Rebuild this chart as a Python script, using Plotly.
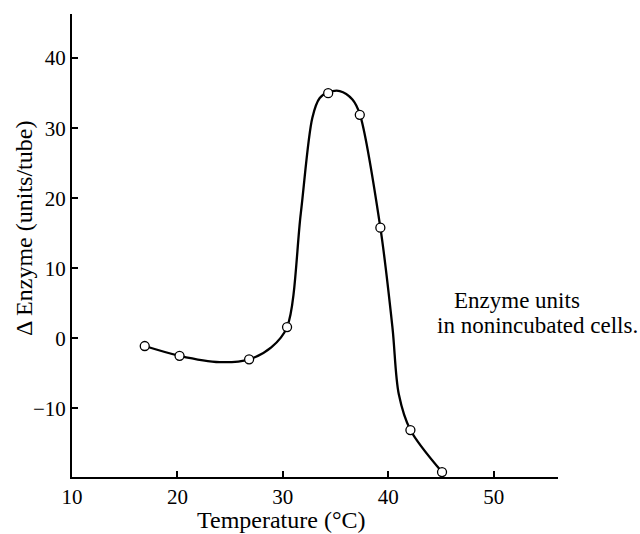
import plotly.graph_objects as go

# measured points (open circles)
temperature = [16.9, 20.2, 26.8, 30.4, 34.3, 37.3, 39.25, 42.1, 45.1]
delta_enzyme = [-1.1, -2.5, -3.0, 1.6, 35.0, 31.9, 15.8, -13.1, -19.1]

# hand-drawn curve
curve_x = [16.9, 20.2, 24.0, 26.8, 28.9, 30.4, 31.7, 32.8, 33.5, 34.3, 35.4,
           36.6, 37.3, 39.25, 40.4, 41.0, 42.1, 45.1]
curve_y = [-1.1, -2.5, -3.4, -3.0, -1.3, 1.6, 17.8, 31.5, 34.3, 35.1, 35.3,
           34.1, 32.0, 15.8, 1.5, -8.0, -13.1, -19.1]

x_ticks = [10, 20, 30, 40, 50]
y_ticks = [-10, 0, 10, 20, 30, 40]
y_tick_labels = ["\u221210", "0", "10", "20", "30", "40"]

FONT = "Liberation Serif, Times New Roman, serif"

fig = go.Figure()
fig.add_trace(go.Scatter(
    x=curve_x, y=curve_y, mode="lines",
    line=dict(color="black", width=2.3, shape="spline", smoothing=0.9),
    showlegend=False, hoverinfo="skip",
))
fig.add_trace(go.Scatter(
    x=temperature, y=delta_enzyme, mode="markers",
    marker=dict(symbol="circle", size=9, color="white",
                line=dict(color="black", width=1.3)),
    showlegend=False,
))

fig.update_layout(
    width=640, height=534,
    margin=dict(l=72, r=82, t=14, b=57),
    paper_bgcolor="white", plot_bgcolor="white",
    font=dict(family=FONT, size=21, color="black"),
    showlegend=False,
)
fig.update_xaxes(
    range=[10, 56.1], tickvals=x_ticks, ticktext=[str(v) for v in x_ticks],
    showline=True, linecolor="black", linewidth=2,
    ticks="inside", ticklen=6, tickwidth=1.5, tickcolor="black",
    showgrid=False, zeroline=False,
    tickfont=dict(family=FONT, size=21),
)
fig.update_yaxes(
    range=[-19.8, 46.3], tickvals=y_ticks, ticktext=y_tick_labels,
    showline=True, linecolor="black", linewidth=2,
    ticks="inside", ticklen=6, tickwidth=1.5, tickcolor="black",
    showgrid=False, zeroline=False,
    tickfont=dict(family=FONT, size=21),
)

PW = 640 - 72 - 82
PH = 534 - 14 - 57
fig.add_annotation(
    text="Temperature (\u00b0C)", xref="paper", yref="paper",
    x=(281 - 72) / PW, y=-(520 - 477) / PH,
    xanchor="center", yanchor="middle", showarrow=False,
    font=dict(family=FONT, size=24),
)
fig.add_annotation(
    text="\u0394 Enzyme (units/tube)", xref="paper", yref="paper",
    x=-(72 - 24) / PW, y=(477 - 229) / PH,
    xanchor="center", yanchor="middle", showarrow=False, textangle=-90,
    font=dict(family=FONT, size=24),
)
fig.add_annotation(
    text="Enzyme units", xref="paper", yref="paper",
    x=(452 - 72) / PW, y=(477 - 300) / PH,
    xanchor="left", yanchor="middle", showarrow=False,
    font=dict(family=FONT, size=23),
)
fig.add_annotation(
    text="in nonincubated cells.", xref="paper", yref="paper",
    x=(435 - 72) / PW, y=(477 - 325) / PH,
    xanchor="left", yanchor="middle", showarrow=False,
    font=dict(family=FONT, size=23),
)

fig.write_html("out.html")
